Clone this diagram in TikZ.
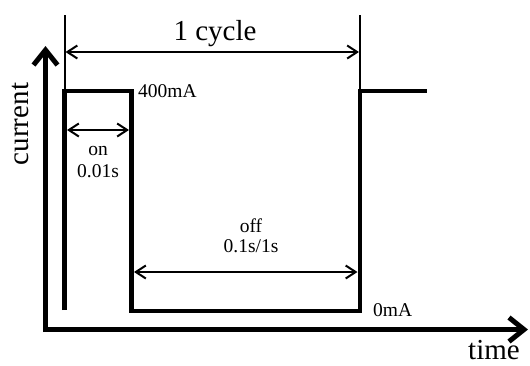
\documentclass[tikz,border=0pt]{standalone}
\usepackage{fontspec}
\setmainfont{Liberation Serif}
\usetikzlibrary{arrows.meta}
\tikzset{
  big/.style={font=\fontsize{29}{31}\selectfont, inner sep=0pt},
  small/.style={font=\fontsize{19.5}{21}\selectfont, inner sep=0pt},
  axisline/.style={line width=5pt, line join=miter, -{Straight Barb[length=15pt,width=24pt,line width=5pt]}},
  pulse/.style={line width=4.5pt, line join=miter, line cap=butt},
  guide/.style={line width=2pt},
  dim/.style={line width=1.8pt, {Straight Barb[length=10pt,width=13pt,line width=2pt]}-{Straight Barb[length=10pt,width=13pt,line width=2pt]}},
}
\begin{document}
\begin{tikzpicture}[x=1pt,y=-1pt]
\useasboundingbox (0,0) rectangle (530,365);
% axes
\coordinate (O) at (45.5,329.5);
\coordinate (Ytip) at (45.5,46);
\coordinate (Xtip) at (528,329.5);
\coordinate (Ybot) at (45.5,332);
\coordinate (Xstart) at (43,329.5);
\draw[axisline] (Ybot) -- (Ytip);
\draw[axisline] (Xstart) -- (Xtip);
% pulse
\coordinate (P0) at (64.5,310);
\coordinate (P1) at (64.5,91);
\coordinate (P2) at (131.5,91);
\coordinate (P3) at (131.5,311);
\coordinate (P4) at (360,311);
\coordinate (P5) at (360,91);
\coordinate (P6) at (427,91);
\draw[pulse] (P0) -- (P1) -- (P2) -- (P3) -- (P4) -- (P5) -- (P6);
% guide lines
\coordinate (G1) at (64.5,15);
\coordinate (G1b) at (64.5,89);
\coordinate (G2) at (360,15);
\coordinate (G2b) at (360,89);
\draw[guide] (G1) -- (G1b);
\draw[guide] (G2) -- (G2b);
% dimension arrows
\coordinate (C1) at (65.5,52);
\coordinate (C2) at (359,52);
\draw[dim] (C1) -- (C2);
\coordinate (N1) at (67,130);
\coordinate (N2) at (129,130);
\draw[dim] (N1) -- (N2);
\coordinate (F1) at (134,272);
\coordinate (F2) at (357.5,272);
\draw[dim] (F1) -- (F2);
% labels
\node[big, anchor=base] (cyc) at (215,40) {1 cycle};
\node[big, anchor=base, rotate=90] (cur) at (28,124) {current};
\node[big, anchor=base] (tim) at (494,359) {time};
\node[small, anchor=base west] (hi) at (138,97) {400mA};
\node[small, anchor=base west] (lo) at (373,316) {0mA};
\node[small, anchor=base] (on) at (98,155) {on};
\node[small, anchor=base] (ont) at (98,177) {0.01s};
\node[small, anchor=base] (off) at (251,232) {off};
\node[small, anchor=base] (offt) at (251,252) {0.1s/1s};
\end{tikzpicture}
\end{document}
